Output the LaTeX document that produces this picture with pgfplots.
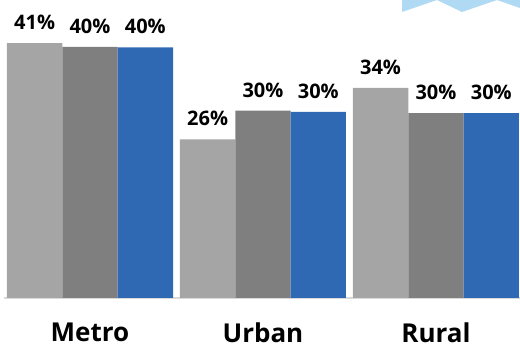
\documentclass[border=0pt]{standalone}
\usepackage{pgfplots}
\pgfplotsset{compat=1.18}
\usepackage{fontspec}
\setmainfont{Open Sans}
\definecolor{lgray}{RGB}{165,165,165}
\definecolor{dgray}{RGB}{127,127,127}
\definecolor{cblue}{RGB}{47,105,179}
\definecolor{lblue}{RGB}{176,218,243}
\definecolor{baselinegray}{RGB}{217,217,217}
\begin{document}
\begin{tikzpicture}[x=1pt,y=1pt]
\useasboundingbox (0,0) rectangle (520,353);
% decorative banner (top right)
\fill[lblue] (402,353) -- (402,341) -- (437,353) -- (462,341) -- (497,353) -- (520,345) -- (520,353) -- cycle;
\begin{axis}[
  at={(4pt,55pt)}, anchor=south west,
  scale only axis, width=516pt, height=298pt,
  xmin=-0.497, xmax=2.486, ymin=0, ymax=48.06,
  axis x line*=bottom, axis y line=none,
  x axis line style={draw=baselinegray, line width=1.5pt, -},
  xtick={0,1,2}, xticklabels={Metro,Urban,Rural},
  major tick length=0pt,
  xticklabel style={font=\bfseries\fontsize{26}{30}\selectfont, yshift=-24pt, inner sep=1pt},
  ytick=\empty,
  ybar, bar width=0.32,
  point meta=explicit symbolic,
  nodes near coords,
  every node near coord/.append style={font=\bfseries\fontsize{20}{24}\selectfont, text=black, yshift=10pt},
  clip=false,
]
\addplot[fill=lgray, draw=none, bar shift=-0.32] coordinates {(0,41.1) [41\%] (1,25.6) [26\%] (2,33.9) [34\%]};
\addplot[fill=dgray, draw=none, bar shift=0] coordinates {(0,40.5) [40\%] (1,30.2) [30\%] (2,29.8) [30\%]};
\addplot[fill=cblue, draw=none, bar shift=0.32] coordinates {(0,40.4) [40\%] (1,30.0) [30\%] (2,29.8) [30\%]};
\end{axis}
\end{tikzpicture}
\end{document}
